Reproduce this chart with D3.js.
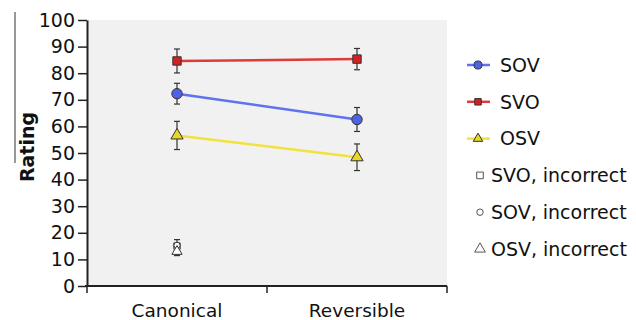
<!DOCTYPE html>
<html>
<head>
<meta charset="utf-8">
<script src="https://cdn.jsdelivr.net/npm/d3@7/dist/d3.min.js"></script>
<style>
  body { margin: 0; background: #fff; }
  text { font-family: "DejaVu Sans", sans-serif; fill: #111; }
</style>
</head>
<body>
<svg id="chart" width="636" height="320"></svg>
<script>
// data
var conditions = ['Canonical', 'Reversible'];
var sovMeans = [72.3, 62.6];
var sovErr = [3.9, 4.5];
var svoMeans = [84.6, 85.3];
var svoErr = [4.5, 4.0];
var osvMeans = [56.6, 48.4];
var osvErr = [5.3, 5.0];
// incorrect ratings, canonical only
var svoIncorrect = [15.0];
var sovIncorrect = [15.3];
var osvIncorrect = [13.0];
var incorrectErr = [3.0];
var yTicks = [0, 10, 20, 30, 40, 50, 60, 70, 80, 90, 100];

var svg = d3.select('#chart');
var m = {left: 87, right: 447, top: 20, bottom: 286};

var x = d3.scaleBand().domain(conditions).range([m.left, m.right]);
var y = d3.scaleLinear().domain([0, 100]).range([m.bottom, m.top]);
var cx = d => x(d) + x.bandwidth() / 2;

//grey plot background
svg.append('rect')
  .attr('x', m.left).attr('y', m.top)
  .attr('width', m.right - m.left).attr('height', m.bottom - m.top)
  .attr('fill', '#f1f1f1');

//stray line at top-left of the original
svg.append('line')
  .attr('x1', 15).attr('x2', 15).attr('y1', 12).attr('y2', 163)
  .attr('stroke', '#333').attr('stroke-width', 1);

//y axis
var yAxis = svg.append('g')
  .attr('transform', `translate(${m.left},0)`)
  .call(d3.axisLeft(y).tickValues(yTicks).tickSize(9).tickPadding(3).tickSizeOuter(0));
yAxis.select('.domain').attr('stroke', '#222').attr('stroke-width', 2);
yAxis.selectAll('.tick line').attr('stroke', '#222').attr('stroke-width', 1.5);
yAxis.selectAll('text').style('font-size', '19px').attr('fill', '#111')
  .style('font-family', '"DejaVu Sans", sans-serif');

//x axis with ticks between categories
svg.append('line')
  .attr('x1', m.left - 2).attr('x2', m.right)
  .attr('y1', m.bottom).attr('y2', m.bottom)
  .attr('stroke', '#222').attr('stroke-width', 2);
svg.append('g').selectAll('line')
  .data([m.left, x(conditions[1]), m.right])
  .join('line')
  .attr('x1', d => d).attr('x2', d => d)
  .attr('y1', m.bottom).attr('y2', m.bottom + 7)
  .attr('stroke', '#222').attr('stroke-width', 1.5);
svg.append('g').selectAll('text')
  .data(conditions)
  .join('text')
  .attr('x', cx).attr('y', 317)
  .attr('text-anchor', 'middle')
  .style('font-size', '18.5px')
  .text(d => d);

svg.append('text')
  .attr('transform', 'translate(34,147) rotate(-90)')
  .attr('text-anchor', 'middle')
  .style('font-size', '19px').style('font-weight', 'bold')
  .text('Rating');

//marker shapes
function marker(g, shape, size, fill, stroke) {
  var sym = {circle: d3.symbolCircle, square: d3.symbolSquare, triangle: d3.symbolTriangle}[shape];
  return g.append('path')
    .attr('d', d3.symbol().type(sym).size(size)())
    .attr('fill', fill).attr('stroke', stroke).attr('stroke-width', 1);
}

function errorBars(g, means, errs, xs) {
  means.forEach(function (v, i) {
    var px = cx(xs[i]);
    var e = g.append('g').attr('stroke', '#333').attr('stroke-width', 1.2);
    e.append('line').attr('x1', px).attr('x2', px).attr('y1', y(v + errs[i])).attr('y2', y(v - errs[i]));
    [v + errs[i], v - errs[i]].forEach(function (w) {
      e.append('line').attr('x1', px - 3).attr('x2', px + 3).attr('y1', y(w)).attr('y2', y(w));
    });
  });
}

var series = [
  {name: 'SOV', means: sovMeans, errs: sovErr, line: '#5f72f2', fill: '#4f62e6', shape: 'circle', size: 85},
  {name: 'SVO', means: svoMeans, errs: svoErr, line: '#dd3a3a', fill: '#d42020', shape: 'square', size: 70},
  {name: 'OSV', means: osvMeans, errs: osvErr, line: '#f2e23e', fill: '#e8d628', shape: 'triangle', size: 65}
];

var lineGen = d3.line().x((d, i) => cx(conditions[i])).y(d => y(d));

series.forEach(function (s) {
  var g = svg.append('g');
  errorBars(g, s.means, s.errs, conditions);
  g.append('path').datum(s.means)
    .attr('d', lineGen).attr('fill', 'none')
    .attr('stroke', s.line).attr('stroke-width', 2.5);
  s.means.forEach(function (v, i) {
    marker(g, s.shape, s.size, s.fill, '#333')
      .attr('transform', `translate(${cx(conditions[i])},${y(v)})`);
  });
});

//incorrect ratings
var incorrect = [
  {name: 'SVO, incorrect', means: svoIncorrect, shape: 'square', size: 40},
  {name: 'SOV, incorrect', means: sovIncorrect, shape: 'circle', size: 30},
  {name: 'OSV, incorrect', means: osvIncorrect, shape: 'triangle', size: 45}
];
var gi = svg.append('g');
errorBars(gi, [d3.mean(incorrect, d => d.means[0])], incorrectErr, conditions);
incorrect.forEach(function (s) {
  marker(gi, s.shape, s.size, '#fff', '#333')
    .attr('transform', `translate(${cx(conditions[0])},${y(s.means[0])})`);
});

//legend
var legend = svg.append('g');
var ly = d3.scalePoint().domain(d3.range(6)).range([65, 249]);
series.forEach(function (s, i) {
  var g = legend.append('g').attr('transform', `translate(0,${ly(i)})`);
  g.append('line').attr('x1', 467).attr('x2', 490).attr('stroke', s.line).attr('stroke-width', 2.5);
  marker(g, s.shape, s.size * 0.6, s.fill, '#333').attr('transform', 'translate(478,0)');
  g.append('text').attr('x', 500).attr('dy', '0.36em').style('font-size', '19px').text(s.name);
});
incorrect.forEach(function (s, i) {
  var g = legend.append('g').attr('transform', `translate(0,${ly(i + 3)})`);
  marker(g, s.shape, s.size * 1.1, '#fff', '#555').attr('transform', 'translate(480,0)');
  g.append('text').attr('x', 491).attr('dy', '0.36em').style('font-size', '19px').text(s.name);
});
</script>
</body>
</html>
